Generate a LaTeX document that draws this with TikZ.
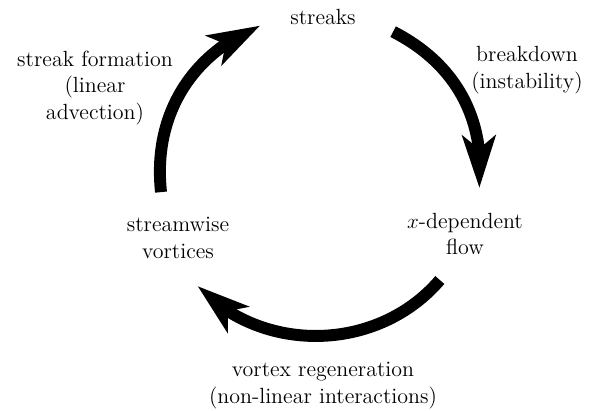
\documentclass[tikz,border=0pt]{standalone}
\usepackage{amsmath,amssymb}
\usepackage{tikz}
\usetikzlibrary{arrows.meta, bending}

\begin{document}
\begin{tikzpicture}[every node/.style={align=center, inner sep=0pt, font=\fontsize{12.5}{15}\selectfont},
		cycarrow/.style={line width=6.8pt, -{Stealth[length=1.04cm, width=0.66cm, inset=0.26cm, flex]}}]
					\useasboundingbox (-6.4,-4.72) rectangle (5.44,3.48);
					
					\node (streaks) at (0.06,3.14) {streaks};
					\node (breakdown) at (4.14,2.08) {breakdown\\(instability)};
					\node (xflow) at (2.9,-1.2) {$x$-dependent\\flow};
					\node (vortices) at (-2.84,-1.28) {streamwise\\vortices};
					\node (formation) at (-4.5,1.72) {streak formation\\(linear\\advection)};
					\node (regen) at (0.06,-4.23) {vortex regeneration\\(non-linear interactions)};
					
					\coordinate (a1) at (186.5:3.2);% left arc
					\coordinate (a2) at (112:3.2);
					\coordinate (b1) at (62.8:3.2);% right arc
					\coordinate (b2) at (-5:3.2);
					\coordinate (c1) at (-41.5:3.2);% bottom arc
					\coordinate (c2) at (-137.5:3.32);
					
					\draw [cycarrow] (a1) to[bend left=37] (a2);
					\draw [cycarrow] (b1) to[bend left=34] (b2);
					\draw [cycarrow] (c1) to[bend left=48] (c2);
					\end{tikzpicture}
\end{document}
